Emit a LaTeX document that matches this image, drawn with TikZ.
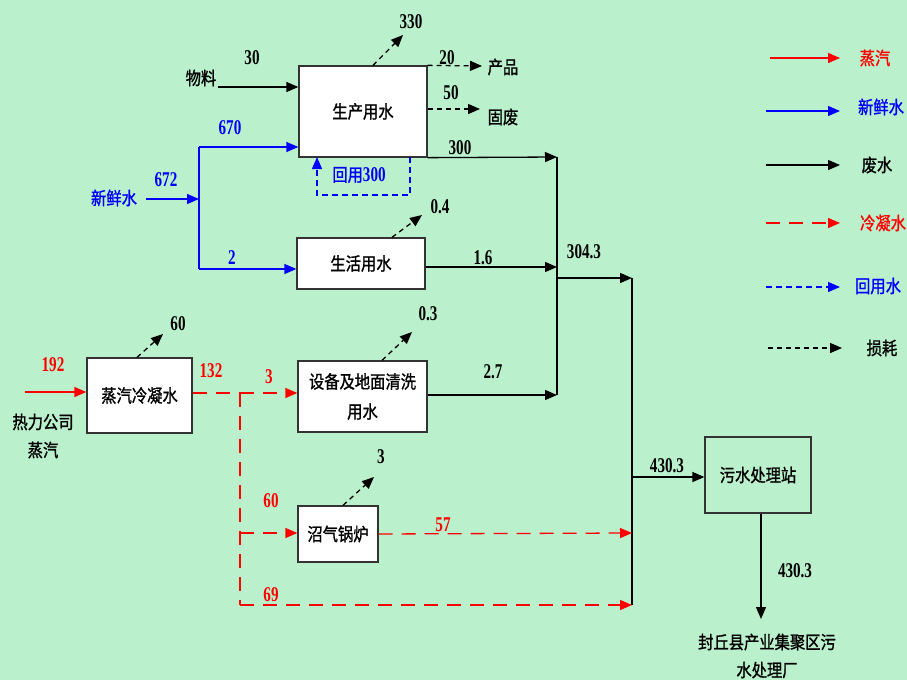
\documentclass[tikz,border=0pt]{standalone}
\usepackage{fontspec}
\setmainfont{Liberation Serif}
\newfontfamily\cjk[FakeStretch=0.85,FakeBold=1.2]{Noto Sans CJK SC}
\newfontfamily\numf[FakeStretch=0.72]{Liberation Serif}
\usetikzlibrary{arrows.meta}
\definecolor{bg}{RGB}{186,240,204}
\definecolor{rd}{RGB}{255,0,0}
\definecolor{bl}{RGB}{0,0,255}
\tikzset{
 x=1pt,y=-1pt,
 box/.style={draw=black!80,line width=1.3pt,fill=white,inner sep=0pt,font=\cjk\fontsize{18}{30}\selectfont,align=center},
 arrw/.style={-{Triangle[length=12pt,width=10pt]}},
 waste/.style={arrw,line width=1.3pt,black},
 wline/.style={line width=1.3pt,black},
 fresh/.style={arrw,line width=1.3pt,bl},
 fline/.style={line width=1.3pt,bl},
 steam/.style={arrw,line width=1.3pt,rd},
 cond/.style={line width=1.3pt,rd,dash pattern=on 14pt off 9pt},
 condA/.style={cond,arrw},
 recyc/.style={arrw,line width=1.3pt,bl,dash pattern=on 6pt off 4pt},
 loss/.style={arrw,line width=1.3pt,black,dash pattern=on 5pt off 4pt},
 cn/.style={font=\cjk\fontsize{18}{28}\selectfont,inner sep=0pt,align=center},
 nm/.style={font=\numf\bfseries\fontsize{21}{24}\selectfont,inner sep=0pt},
}
\begin{document}
\begin{tikzpicture}
\fill[bg] (0,0) rectangle (907,680);
\useasboundingbox (0,0) rectangle (907,680);

% boxes
\node[box,minimum width=128pt,minimum height=91pt] (P) at (363,111.5) {生产用水};
\node[box,minimum width=128pt,minimum height=51pt] (L) at (361,263.5) {生活用水};
\node[box,minimum width=129pt,minimum height=71pt] (E) at (362.5,396.5) {设备及地面清洗\\用水};
\node[box,minimum width=105pt,minimum height=75pt] (C) at (139.5,395.5) {蒸汽冷凝水};
\node[box,minimum width=80pt,minimum height=56pt] (B) at (338,534) {沼气锅炉};
\node[box,fill=none,minimum width=106pt,minimum height=76pt] (S) at (758,475) {污水处理站};

% coordinates
\coordinate (wlS) at (218,87);
\coordinate (fwS) at (146,199);
\coordinate (J1) at (199,199);
\coordinate (J1a) at (199,147);
\coordinate (J1b) at (199,269);
\coordinate (R1) at (410,157);
\coordinate (R2) at (317,157);
\coordinate (W1) at (557,157);
\coordinate (W2) at (557,267);
\coordinate (W3) at (557,395);
\coordinate (Wm) at (557,278);
\coordinate (V1) at (632,278);
\coordinate (V3) at (632,477);
\coordinate (V5) at (632,533);
\coordinate (V4) at (632,605);
\coordinate (out) at (761,619);
\coordinate (stS) at (25,392);
\coordinate (K0) at (240,393);
\coordinate (K1) at (240,533);
\coordinate (K2) at (240,605);
\coordinate (pr) at (482,66);
\coordinate (gf) at (480,109);
\coordinate (lP) at (403,35);
\coordinate (lC) at (163,334);
\coordinate (lL) at (422,215);
\coordinate (lE) at (412,332);
\coordinate (lB) at (374,477);

% material
\node[cn] (wl) at (201,78) {物料};
\draw[waste] (wlS) -- (P.west |- wlS);
\node[nm] at (252,58) {30};

% fresh water
\node[cn,text=bl] (fw) at (114,198) {新鲜水};
\draw[fresh] (fwS) -- (J1);
\draw[fline] (J1a) -- (J1b);
\draw[fresh] (J1a) -- (P.west |- J1a);
\draw[fresh] (J1b) -- (L.west |- J1b);
\node[nm,text=bl] at (166,180) {672};
\node[nm,text=bl] at (230,128) {670};
\node[nm,text=bl] at (232,258) {2};

% recycle
\draw[recyc] (R1) -- ++(0,38) -| (R2);
\node[text=bl,inner sep=0pt] at (359,175) {{\cjk\fontsize{18}{22}\selectfont 回用}{\numf\bfseries\fontsize{21}{24}\selectfont 300}};

% production outputs
\draw[loss] (P.north -| 373,0) -- (lP);
\node[nm] at (411,22) {330};
\draw[loss] (P.north east) -- (pr);
\node[nm] at (447,58) {20};
\node[cn] at (503,67) {产品};
\draw[loss] (P.east |- gf) -- (gf);
\node[nm] at (451,93) {50};
\node[cn] at (503,117) {固废};

% waste water
\draw[waste] (P.south east) -- (W1);
\node[nm] at (460,148) {300};
\draw[waste] (L.east |- W2) -- (W2);
\node[nm] at (483,258) {1.6};
\draw[waste] (E.east |- W3) -- (W3);
\node[nm] at (493,372) {2.7};
\draw[wline] (W1) -- (W3);
\draw[waste] (Wm) -- (V1);
\node[nm] at (584,252) {304.3};
\draw[wline] (V1) -- (V4);
\draw[waste] (V3) -- (S.west |- V3);
\node[nm] at (667,466) {430.3};
\draw[waste] (S.south -| out) -- (out);
\node[nm] at (795,571) {430.3};
\node[cn] at (767,656) {封丘县产业集聚区污\\水处理厂};

% losses
\draw[loss] (L.north -| 392,0) -- (lL);
\node[nm] at (440,207) {0.4};
\draw[loss] (E.north -| 382,0) -- (lE);
\node[nm] at (428,314) {0.3};
\draw[loss] (C.north -| 137,0) -- (lC);
\node[nm] at (178,324) {60};
\draw[loss] (B.north -| 343,0) -- (lB);
\node[nm] at (381,457) {3};

% steam
\draw[steam] (stS) -- (C.west |- stS);
\node[nm,text=rd] at (53,365) {192};
\node[cn] at (43,436) {热力公司\\蒸汽};

% condensate
\draw[cond] (C.east |- K0) -- (K0);
\draw[condA] (K0) -- (E.west |- K0);
\draw[cond] (K0) -- (K2);
\draw[condA] (K1) -- (B.west |- K1);
\draw[condA] (B.east) -- (V5);
\draw[condA] (K2) -- (V4);
\node[nm,text=rd] at (211,371) {132};
\node[nm,text=rd] at (269,377) {3};
\node[nm,text=rd] at (271,501) {60};
\node[nm,text=rd] at (443,525) {57};
\node[nm,text=rd] at (271,595) {69};

% legend
\coordinate (g1a) at (770,58); \coordinate (g1b) at (840,58);
\coordinate (g2a) at (766,111); \coordinate (g2b) at (840,111);
\coordinate (g3a) at (766,165); \coordinate (g3b) at (840,165);
\coordinate (g4a) at (766,223); \coordinate (g4b) at (840,223);
\coordinate (g5a) at (766,287); \coordinate (g5b) at (840,287);
\coordinate (g6a) at (768,348); \coordinate (g6b) at (842,348);
\draw[steam] (g1a) -- (g1b);
\draw[fresh] (g2a) -- (g2b);
\draw[waste] (g3a) -- (g3b);
\draw[condA] (g4a) -- (g4b);
\draw[recyc] (g5a) -- (g5b);
\draw[loss] (g6a) -- (g6b);
\node[cn,text=rd] at (875,58) {蒸汽};
\node[cn,text=bl] at (881,107) {新鲜水};
\node[cn] at (877,165) {废水};
\node[cn,text=rd] at (883,223) {冷凝水};
\node[cn,text=bl] at (878,286) {回用水};
\node[cn] at (882,348) {损耗};
\end{tikzpicture}
\end{document}
